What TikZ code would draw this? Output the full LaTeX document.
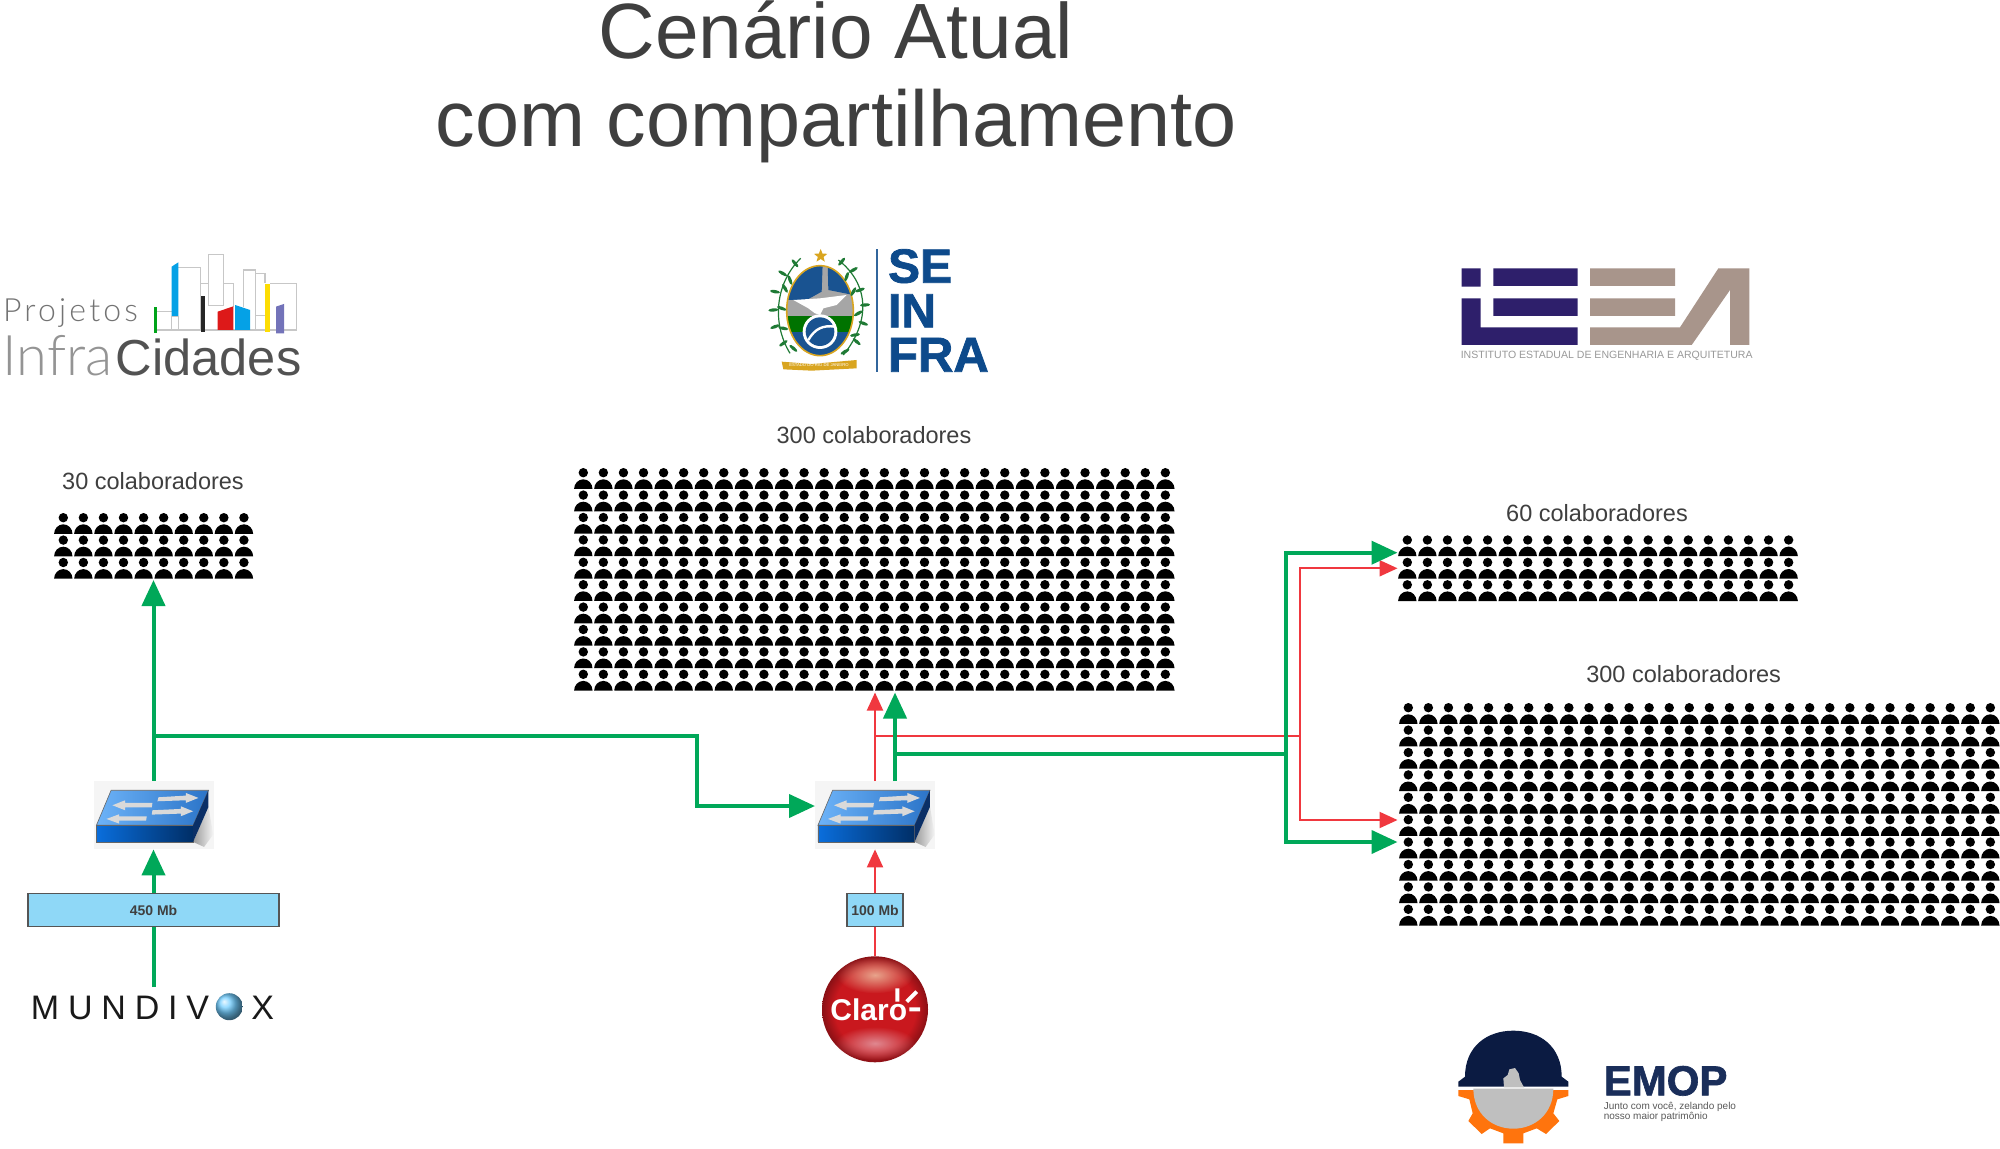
\documentclass[tikz,border=0pt]{standalone}
\usepackage{fontspec}
\setmainfont{Liberation Sans}
\newfontfamily\thinfont{Lato Light}
\usetikzlibrary{arrows.meta,shapes.geometric,fadings}
\tikzfading[name=softball,inner color=transparent!0,outer color=transparent!100]
\definecolor{grn}{HTML}{00A859}
\definecolor{rd}{HTML}{F0383F}
\definecolor{boxfill}{HTML}{8FD8F7}
\definecolor{boxline}{HTML}{555555}
\definecolor{txt}{HTML}{3F3F3F}
\definecolor{navy}{HTML}{0D4A8B}
\definecolor{ieeanavy}{HTML}{2E1F6B}
\definecolor{taupe}{HTML}{A8958B}
\definecolor{emopnavy}{HTML}{0B1B42}
\definecolor{emoptext}{HTML}{1A2E5A}
\definecolor{gold}{HTML}{D9A520}
\definecolor{leaf}{HTML}{1F7A35}
\definecolor{swtopL}{HTML}{6DB3F8}
\definecolor{swtopR}{HTML}{2B74C8}
\definecolor{swfrontL}{HTML}{0A6EDC}
\definecolor{swfrontR}{HTML}{002E66}
\definecolor{swside}{HTML}{0A2F66}
\definecolor{ballred}{HTML}{C9181E}
\definecolor{balldark}{HTML}{8A1015}
\definecolor{ballhiA}{HTML}{E8A48C}
\definecolor{ballhiB}{HTML}{E08890}
\pgfdeclareradialshading{claroball}{\pgfpoint{0bp}{0bp}}{color(0bp)=(ballred); color(19bp)=(ballred); color(25bp)=(balldark); color(50bp)=(balldark)}
\newcommand{\fs}[1]{\fontsize{#1}{#1}\selectfont}
\newcommand{\crowd}[4]{%
  \foreach \ci in {1,...,#3}{\foreach \ri in {1,...,#4}{%
    \pic at ({#1+(\ci-1)*20.07},{#2+(\ri-1)*22.4}) {person};
  }}}
\tikzset{
  person/.pic={\fill (0,0) circle [radius=4.7]
     (-9.2,16.2) .. controls (-9.2,11) and (-5.1,6.6) .. (0,6.6)
     .. controls (5.1,6.6) and (9.2,11) .. (9.2,16.2) -- cycle;},
  greenline/.style={draw=grn,line width=2pt,line join=miter},
  redline/.style={draw=rd,line width=1pt,line join=miter},
  greentip/.style={-{Triangle[length=13pt,width=11.5pt]}},
  redtip/.style={-{Triangle[length=9pt,width=8pt]}},
  ratebox/.style={draw=boxline,fill=boxfill,line width=.75pt,inner sep=0pt,text=txt,
     font=\bfseries\fs{7},minimum height=16.5pt},
  swbg/.style={fill=black!4,inner sep=0pt,minimum width=60pt,minimum height=34pt},
  grouplabel/.style={anchor=base,text=txt,font=\fs{11.75},inner sep=0pt},
  logotext/.style={anchor=base west,inner sep=0pt},
  switchpic/.pic={
   \begin{scope}[shift={(-84,-21)},scale=1/3]
    \shade[left color=black!40,right color=black!4] (552,247)--(598,140)--(612,225)--(585,262)--cycle;
    \shade[left color=swtopL,right color=swtopR,draw=black!60,line width=.3pt]
       (262,197)--(306,92)--(598,92)--(552,197)--cycle;
    \shade[left color=swfrontL,right color=swfrontR,draw=black!60,line width=.3pt]
       (262,197)--(552,197)--(552,247)--(262,247)--cycle;
    \fill[swside] (552,197)--(598,92)--(598,142)--(552,247)--cycle;
    \fill[black!15] (448,113)--(530,108)--(530,100)--(568,115)--(530,130)--(530,122)--(445,125)--cycle;
    \fill[black!15] (430,152)--(515,148)--(515,140)--(552,155)--(515,170)--(515,162)--(428,165)--cycle;
    \fill[black!15] (310,137)--(348,122)--(348,130)--(430,130)--(428,143)--(348,143)--(348,152)--cycle;
    \fill[black!15] (292,178)--(330,164)--(330,170)--(413,170)--(411,183)--(330,183)--(330,192)--cycle;
   \end{scope}}
}
\begin{document}
\begin{tikzpicture}[x=0.5pt,y=-0.5pt]
\useasboundingbox (0,0) rectangle (2000,1149);
\clip (0,0) rectangle (2000,1149);
\fill[white] (0,0) rectangle (2000,1149);

% title
\node[anchor=base,text=txt,font=\fs{39.2},inner sep=0pt] (title1) at (836,59) {Cenário Atual};
\node[anchor=base,text=txt,font=\fs{39.6},inner sep=0pt] (title2) at (836,147) {com compartilhamento};

% group labels
\node[grouplabel] (lab30) at (153,489) {30 colaboradores};
\node[grouplabel] (lab300a) at (874,444) {300 colaboradores};
\node[grouplabel] (lab60) at (1597,521.7) {60 colaboradores};
\node[grouplabel] (lab300b) at (1683.6,682) {300 colaboradores};

% crowds
\crowd{63.3}{517.7}{10}{3}
\crowd{583.3}{472.7}{30}{10}
\crowd{1407.3}{540}{20}{3}
\crowd{1408.3}{707.7}{30}{10}

% free ends at the crowds
\coordinate (g30in) at (153.5,580);
\coordinate (g300red) at (875,692.5);
\coordinate (g300grn) at (895,692.5);
\coordinate (g60grn) at (1397.5,552.7);
\coordinate (g60red) at (1397.5,568.3);
\coordinate (gbred) at (1397.5,820);
\coordinate (gbgrn) at (1397.5,842);

% switches
\node[swbg] (sw1) at (153.5,815) {};
\pic at (sw1.north west) {switchpic};
\node[swbg] (sw2) at (875,815) {};
\pic at (sw2.north west) {switchpic};

% rate boxes
\node[ratebox,minimum width=125.5pt] (box450) at (153.5,910) {450 Mb};
\node[ratebox,minimum width=28pt] (box100) at (875,910) {100 Mb};

% Mundivox
\node[logotext,text=black!90,font=\fs{17}\addfontfeature{LetterSpace=26}] (mundi) at (30.5,1019.3) {MUNDIV};
\shade[ball color=blue!35!cyan!55!white] (229.3,1006.7) circle [radius=13.5];
\node[logotext,text=black!90,font=\fs{17}] (mundix) at (251,1019.3) {X};
\coordinate (mundtop) at (153.5,987);

% Claro
\node[circle,minimum size=53pt,inner sep=0pt,shading=claroball] (claro) at (875,1009.3) {};
\begin{scope}[shift={(780,680)},scale=1/3]
 \fill[ballhiA,path fading=softball] (285,885) ellipse [x radius=115,y radius=55];
 \fill[ballhiB,path fading=softball] (285,1090) ellipse [x radius=120,y radius=50];
 \node[logotext,text=white,font=\bfseries\fs{15}] (clarotext) at (150,1020) {Claro};
 \draw[white,line width=2pt] (352,925)--(352,965) (380,965)--(410,935) (388,988)--(420,988);
\end{scope}

% connectors
\coordinate (sw1up) at (sw1.north);
\coordinate (jleft) at (153.5,736);
\coordinate (bendA) at (696.5,736);
\coordinate (bendB) at (696.5,806);
\coordinate (sw2in) at (815,806);
\coordinate (sw2gr) at (895,781);
\coordinate (sw2rd) at (875,781);
\coordinate (jgr) at (895,754);
\coordinate (jgrR) at (1286,754);
\coordinate (vgTop) at (1286,552.7);
\coordinate (vgBot) at (1286,842);
\coordinate (jrd) at (875,736);
\coordinate (jrdR) at (1300,736);
\coordinate (vrTop) at (1300,568.3);
\coordinate (vrBot) at (1300,820);

\path[redline] (claro.north) -- (box100.south);
\path[redline,redtip] (box100.north) -- (sw2.south);
\path[redline,redtip] (sw2rd) -- (g300red);
\path[redline] (jrd) -- (jrdR);
\path[redline,redtip] (jrdR) -- (vrTop) -- (g60red);
\path[redline,redtip] (jrdR) -- (vrBot) -- (gbred);

\path[greenline] (mundtop) -- (box450.south);
\path[greenline,greentip] (box450.north) -- (sw1.south);
\path[greenline,greentip] (sw1up) -- (g30in);
\path[greenline,greentip] (jleft) -- (bendA) -- (bendB) -- (sw2in);
\path[greenline,greentip] (sw2gr) -- (g300grn);
\path[greenline] (jgr) -- (jgrR);
\path[greenline,greentip] (jgrR) -- (vgTop) -- (g60grn);
\path[greenline,greentip] (jgrR) -- (vgBot) -- (gbgrn);

% Projetos InfraCidades logo
\begin{scope}[shift={(0,230)},scale=1/3]
 \draw[black!22,line width=.6pt]
   (470,300)--(890,300)--(890,161)--(810,161)
   (470,300)--(470,245)--(515,245)
   (535,112)--(602,112)--(602,300)
   (515,258)--(535,258) (515,258)--(515,300) (535,258)--(535,300)
   (602,160)--(625,160)
   (625,73) rectangle (670,227)
   (670,160)--(700,160)--(700,230)
   (730,230)--(730,120)--(767,120)--(767,300)
   (767,130)--(795,130)--(795,160) (767,257)--(795,257);
 \fill[green!60!black!90!cyan] (461,232) rectangle (470,310);
 \fill[cyan!90!blue] (515,110)--(535,97)--(535,258)--(515,258)--cycle;
 \fill[black!85] (602,197) rectangle (615,305);
 \fill[red!85!black!90!white] (653,245)--(700,229)--(700,300)--(653,300)--cycle;
 \fill[cyan!90!blue] (705,225)--(750,240)--(750,300)--(705,300)--cycle;
 \fill[yellow!80!orange] (795,161) rectangle (811,305);
 \fill[blue!50!black!55!white] (828,230)--(852,222)--(852,310)--(828,310)--cycle;
 \node[logotext,text=black!55,font=\thinfont\fs{16}\addfontfeature{LetterSpace=10}] (projetos) at (8,275) {Projetos};
 \node[logotext,text=black!42,font=\thinfont\fs{28}] (infra) at (6,437) {Infra};
 \node[logotext,text=black!68,font=\fs{25.3}] (cidades) at (346,437) {Cidades};
\end{scope}

% SEINFRA logo
\begin{scope}[shift={(740,220)},scale=1/3]
 \draw[navy!85,line width=.6pt] (411,88)--(411,455);
 \node[logotext,text=navy,font=\bfseries\fs{24}\addfontfeature{FakeBold=1.5}] (se) at (443,188) {SE};
 \node[logotext,text=navy,font=\bfseries\fs{24}\addfontfeature{FakeBold=1.5}] (in) at (443,322) {IN};
 \node[logotext,text=navy,font=\bfseries\fs{24.5}\addfontfeature{FakeBold=1.5}] (fra) at (443,455) {FRA};
 \begin{scope}
  \clip (240,272) ellipse [x radius=100,y radius=135];
  \fill[black!35] (130,130) rectangle (350,290);
  \fill[navy!95] (140,240)--(160,180)--(200,150)--(248,130)--(245,215)--(200,240)--cycle;
  \fill[navy!95] (263,130)--(310,150)--(340,225)--(265,210)--cycle;
  \fill[green!45!black] (130,287) rectangle (350,335);
  \fill[navy!95] (130,335) rectangle (350,410);
 \end{scope}
 \draw[gold,line width=.8pt] (240,272) ellipse [x radius=100,y radius=135];
 \fill[white] (160,240)--(240,235)--(320,225)--(290,255)--(250,265)--(240,285)--(225,280)--(205,265)--cycle;
 \fill[white] (240,335) circle [radius=52];
 \fill[navy!95] (240,335) circle [radius=43];
 \draw[white,line width=1.2pt] (205,360) .. controls (225,325) and (250,315) .. (285,320);
 \node[star,star points=5,star point ratio=2.3,fill=gold,inner sep=0pt,minimum size=7pt] (crest) at (242,108) {};
 \draw[leaf,line width=.6pt] (150,400) .. controls (95,310) and (105,190) .. (182,115);
 \draw[leaf,line width=.6pt] (295,120) .. controls (385,190) and (395,300) .. (310,405);
 \foreach \lx/\ly/\la in {165/130/40,128/160/60,150/180/20,105/215/80,135/205/30,100/270/95,125/265/70,105/320/110,130/325/80,130/370/125,160/385/50}{
   \fill[leaf] (\lx,\ly) ellipse [x radius=5,y radius=15,rotate=\la];}
 \foreach \lx/\ly/\la in {305/125/-40,340/150/-60,320/170/-20,360/210/-70,340/215/-30,375/255/-85,355/280/-60,370/310/-110,345/345/-80,350/365/-130,315/395/-60}{
   \fill[leaf] (\lx,\ly) ellipse [x radius=5,y radius=15,rotate=\la];}
 \fill[gold] (125,425)--(215,432)--(215,452)--(130,448)--cycle (215,432)--(350,420)--(350,445)--(215,452)--cycle;
 \node[text=white,font=\fs{2.1},inner sep=0pt] (ribbon) at (237,436) {ESTADO DO RIO DE JANEIRO};
\end{scope}

% IEEA logo
\begin{scope}[shift={(1430,240)},scale=1/3]
 \fill[ieeanavy] (95,85) rectangle (152,140) (190,85) rectangle (443,138) (190,175) rectangle (443,228);
 \fill[ieeanavy] (95,175)--(152,175)--(152,262)--(443,262)--(443,315)--(95,315)--cycle;
 \fill[taupe] (480,85) rectangle (735,138) (480,175) rectangle (735,228);
 \fill[taupe] (480,262)--(750,262)--(865,85)--(958,85)--(958,315)--(900,315)--(900,150)--(785,315)--(480,315)--cycle;
 \node[text=black!40,font=\fs{5.27},inner sep=0pt] (ieeatext) at (530,346) {INSTITUTO ESTADUAL DE ENGENHARIA E ARQUITETURA};
\end{scope}

% EMOP logo
\begin{scope}[shift={(1440,1010)},scale=1/3]
 \fill[orange!85!red!95!white] (55,240)--(55,258)--(88,268)--(98,310)--(85,333)--(125,372)--(150,355)--(190,370)--(190,400)--(250,400)--(250,370)--(290,355)--(318,372)--(358,333)--(340,310)--(352,268)--(385,258)--(385,240)--cycle;
 \fill[black!25] (100,236) .. controls (100,310) and (155,356) .. (220,356) .. controls (285,356) and (340,310) .. (340,236) -- cycle;
 \fill[emopnavy] (55,230)--(55,215)--(75,200) .. controls (75,110) and (140,62) .. (220,62) .. controls (300,62) and (365,110) .. (365,200)--(385,215)--(385,230)--cycle;
 \fill[black!25] (192,232)--(190,205)--(203,195)--(208,178)--(225,174)--(236,190)--(240,210)--(252,232)--cycle;
 \node[logotext,text=emoptext,font=\bfseries\fs{21}\addfontfeature{FakeBold=1.5}] (emop) at (490,256) {EMOP};
 \node[logotext,text=black!65,font=\fs{5}] (tag1) at (490,298) {Junto com você, zelando pelo};
 \node[logotext,text=black!65,font=\fs{5}] (tag2) at (490,328) {nosso maior patrimônio};
\end{scope}
\end{tikzpicture}
\end{document}
